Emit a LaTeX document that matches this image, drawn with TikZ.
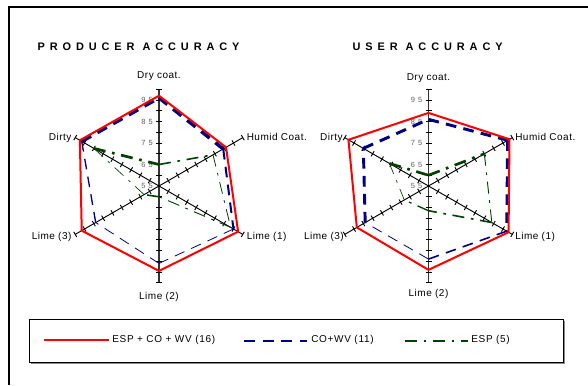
\documentclass[tikz,border=0pt]{standalone}
\usepackage{fontspec}
\setmainfont{Liberation Sans}
\usetikzlibrary{calc}
\definecolor{cred}{RGB}{255,0,0}
\definecolor{cblue}{RGB}{0,0,128}
\definecolor{cgreen}{RGB}{0,64,0}
\definecolor{tickgray}{RGB}{90,90,90}
\tikzset{
  redline/.style={cred, line width=1.5pt, line join=miter},
  bluedash/.style={cblue, dash pattern=on 8pt off 5.5pt},
  greendd/.style={cgreen, dash pattern=on 9pt off 5pt on 2pt off 5pt},
  axisline/.style={black, line width=0.7pt},
  vaxis/.style={black!80, line width=0.9pt},
  tickmark/.style={black, line width=0.7pt},
  axlabel/.style={font=\fontsize{7.5}{9}\selectfont\addfontfeature{LetterSpace=5}, inner sep=0pt, text height=5.37pt, text depth=0pt},
  legtext/.style={font=\fontsize{7.5}{9}\selectfont\addfontfeature{LetterSpace=7}, inner sep=0pt, text height=5.37pt, text depth=0pt, anchor=west},
  ticklabel/.style={font=\fontsize{5.6}{6.5}\selectfont\addfontfeature{LetterSpace=40}, text=tickgray, inner sep=0pt, text height=4pt, text depth=0pt, anchor=east},
  charttitle/.style={font=\fontsize{8.2}{10}\selectfont\bfseries\addfontfeature{LetterSpace=45}, inner sep=0pt, text height=5.87pt, text depth=0pt, anchor=west},
}
% axes, ticks and tick labels of one chart
\newcommand\radaraxes{%
  \draw[vaxis] (-90:96.75) -- (90:96.75);
  \draw[axisline] (-30:96.75) -- (150:96.75);
  \draw[axisline] (30:96.75) -- (210:96.75);
  \foreach \a in {-90,-30,30,90,150,210}{
    \foreach \k in {1,...,9}{
      \draw[tickmark] ($(\a:{\k*10.75})+(\a+90:3)$) -- ($(\a:{\k*10.75})-(\a+90:3)$);
    }
  }
  \foreach \v in {55,65,75,85,95}{
    \node[ticklabel] (tl\v) at (-6,{-(\v-55)*2.15}) {\v};
  }
}
% six named data points: prefix, Dry, Humid, Lime1, Lime2, Lime3, Dirty
\newcommand\mkpts[7]{%
  \coordinate (#1a) at (-90:{(#2-55)*2.15});
  \coordinate (#1b) at (-30:{(#3-55)*2.15});
  \coordinate (#1c) at (30:{(#4-55)*2.15});
  \coordinate (#1d) at (90:{(#5-55)*2.15});
  \coordinate (#1e) at (150:{(#6-55)*2.15});
  \coordinate (#1f) at (210:{(#7-55)*2.15});
}
\begin{document}
\begin{tikzpicture}[x=0.75pt, y=-0.75pt]
\useasboundingbox (0,0) rectangle (588,385);
% frame
\draw[line width=1.3pt] (9,385) -- (9,7) -- (588,7);
% titles
\node[charttitle] (t1) at (37.3,46.2) {PRODUCER ACCURACY};
\node[charttitle] (t2) at (352.3,46.2) {USER ACCURACY};

% ---------- left chart ----------
\begin{scope}[shift={(159,186)}]
  \radaraxes
  \node[axlabel] (ld) at (0,-111) {Dry coat.};
  \node[axlabel, anchor=west] (lh) at (87.5,-49) {Humid Coat.};
  \node[axlabel, anchor=west] (l1) at (87.5,49.5) {Lime (1)};
  \node[axlabel] (l2) at (0,109.5) {Lime (2)};
  \node[axlabel, anchor=east] (l3) at (-87.3,49.5) {Lime (3)};
  \node[axlabel, anchor=east] (lf) at (-87.3,-49) {Dirty};
  \mkpts{LR}{97}{91}{97.5}{94.5}{96.5}{97.5}
  \mkpts{LB}{96}{89.5}{95}{91}{89}{96.5}
  \mkpts{LG}{65}{84}{93.5}{60}{63}{90}
  \draw[greendd, line width=1.2pt] (LGa) -- (LGb);
  \draw[greendd, line width=0.6pt] (LGb) -- (LGc);
  \draw[greendd, line width=0.7pt] (LGc) -- (LGd);
  \draw[greendd, line width=1.2pt] (LGd) -- (LGe);
  \draw[greendd, line width=0.5pt] (LGe) -- (LGf);
  \draw[greendd, line width=2pt] (LGf) -- (LGa);
  \draw[bluedash, line width=2.6pt] (LBa) -- (LBb);
  \draw[bluedash, line width=1.5pt] (LBb) -- (LBc);
  \draw[bluedash, line width=0.6pt] (LBc) -- (LBd);
  \draw[bluedash, line width=0.6pt] (LBd) -- (LBe);
  \draw[bluedash, line width=1pt] (LBe) -- (LBf);
  \draw[bluedash, line width=2.6pt] (LBf) -- (LBa);
  \draw[redline] (LRa) -- (LRb) -- (LRc) -- (LRd) -- (LRe) -- (LRf) -- cycle;
\end{scope}

% ---------- right chart ----------
\begin{scope}[shift={(428.5,186)}]
  \radaraxes
  \node[axlabel] (rd) at (0,-109.5) {Dry coat.};
  \node[axlabel, anchor=west] (rh) at (86.5,-49) {Humid Coat.};
  \node[axlabel, anchor=west] (r1) at (86.5,49.5) {Lime (1)};
  \node[axlabel] (r2) at (0,107) {Lime (2)};
  \node[axlabel, anchor=east] (r3) at (-84.5,49.5) {Lime (3)};
  \node[axlabel, anchor=east] (rf) at (-85.5,-49) {Dirty};
  \mkpts{RR}{89}{98.5}{98}{94}{93.5}{98}
  \mkpts{RB}{86}{97.5}{97}{89}{89}{90}
  \mkpts{RG}{60}{85}{89}{66.5}{68}{76}
  \draw[greendd, line width=2pt] (RGa) -- (RGb);
  \draw[greendd, line width=0.7pt] (RGb) -- (RGc);
  \draw[greendd, line width=1.2pt] (RGc) -- (RGd);
  \draw[greendd, line width=1pt] (RGd) -- (RGe);
  \draw[greendd, line width=0.5pt] (RGe) -- (RGf);
  \draw[greendd, line width=2pt] (RGf) -- (RGa);
  \draw[bluedash, line width=2.2pt] (RBa) -- (RBb);
  \draw[bluedash, line width=2.2pt] (RBb) -- (RBc);
  \draw[bluedash, line width=1.2pt] (RBc) -- (RBd);
  \draw[bluedash, line width=0.6pt] (RBd) -- (RBe);
  \draw[bluedash, line width=2.2pt] (RBe) -- (RBf);
  \draw[bluedash, line width=2.2pt] (RBf) -- (RBa);
  \draw[redline] (RRa) -- (RRb) -- (RRc) -- (RRd) -- (RRe) -- (RRf) -- cycle;
\end{scope}

% ---------- legend ----------
\draw[black!45, line width=1pt] (31,363.5) -- (564.3,363.5) -- (564.3,320.5);
\draw[line width=0.8pt] (29.7,319.3) rectangle (563.3,362.7);
\coordinate (k1a) at (44,340);
\coordinate (k1b) at (109,340);
\draw[redline] (k1a) -- (k1b);
\node[legtext] (k1) at (112,338.7) {ESP + CO + WV (16)};
\coordinate (k2a) at (244,341);
\coordinate (k2b) at (307,341);
\draw[bluedash, line width=1.6pt, dash pattern=on 8.25pt off 5.75pt] (k2a) -- (k2b);
\node[legtext] (k2) at (311,338.7) {CO+WV (11)};
\coordinate (k3a) at (405,341);
\coordinate (k3b) at (468,341);
\draw[greendd, line width=1.6pt] (k3a) -- (k3b);
\node[legtext] (k3) at (471,338.7) {ESP (5)};
\end{tikzpicture}
\end{document}
